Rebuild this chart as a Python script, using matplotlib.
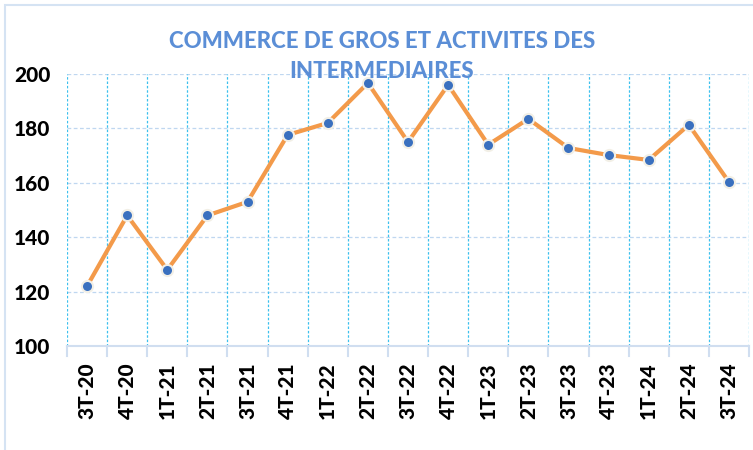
import numpy as np
import matplotlib.pyplot as plt
from matplotlib.patches import Rectangle

plt.rcParams['font.family'] = ['Lato', 'DejaVu Sans']

quarters = ['3T-20', '4T-20', '1T-21', '2T-21', '3T-21', '4T-21', '1T-22', '2T-22', '3T-22',
            '4T-22', '1T-23', '2T-23', '3T-23', '4T-23', '1T-24', '2T-24', '3T-24']
values = [122, 148, 128, 148, 153, 177.6, 182, 196.7, 175, 196, 174, 183.5, 172.8, 170.2,
          168.4, 181.3, 160.3]
yticks = [100, 120, 140, 160, 180, 200]

fig = plt.figure(figsize=(7.53, 4.5), dpi=100)
ax = fig.add_axes([67 / 753, 1 - 346 / 450, (749 - 67) / 753, (346 - 74) / 450])

x = np.arange(len(quarters))
ax.plot(x, values, color='#F39A4A', lw=3, zorder=3)
ax.plot(x, values, 'o', ms=8, mfc='#3A70BF', mec='#F2EFE6', mew=1.5, zorder=4)

ax.set_xlim(-0.5, len(quarters) - 0.5)
ax.set_ylim(100, 200)
ax.set_yticks(yticks)
ax.set_yticklabels([str(v) for v in yticks], fontsize=15, fontweight='black')
ax.set_xticks(x)
ax.set_xticklabels(quarters, rotation=90, fontsize=15, fontweight='black')
ax.tick_params(axis='x', length=0, pad=12)
ax.tick_params(axis='y', length=0, pad=12)

# gridlines
for v in yticks[1:]:
    ax.axhline(v, color='#BFD7F0', lw=0.9, ls=(0, (3, 2)), zorder=1)
for b in np.arange(-0.5, len(quarters), 1):
    ax.axvline(b, color='#3CC0EE', lw=0.9, ls=(0, (2, 1.5)), zorder=1)
    ax.plot([b, b], [0, -0.035], transform=ax.get_xaxis_transform(), color='#D0DEF0',
            lw=1.5, clip_on=False)

for s in ['top', 'right', 'left']:
    ax.spines[s].set_visible(False)
ax.spines['bottom'].set_color('#D0DEF0')
ax.spines['bottom'].set_linewidth(1.5)

fig.text(382 / 753, 1 - 42 / 450, 'COMMERCE DE GROS ET ACTIVITES DES', ha='center', va='center',
         fontsize=16, fontweight='black', color='#5B8ED6', zorder=5)
fig.text(382 / 753, 1 - 72 / 450, 'INTERMEDIAIRES', ha='center', va='center',
         fontsize=16, fontweight='black', color='#5B8ED6', zorder=5)

fig.patches.append(Rectangle((5 / 753, -0.1), 1.2, 1 - 5 / 450 + 0.1, transform=fig.transFigure,
                             fill=False, ec='#D5E3F3', lw=1.5))

fig.savefig('out.png', dpi=100)
